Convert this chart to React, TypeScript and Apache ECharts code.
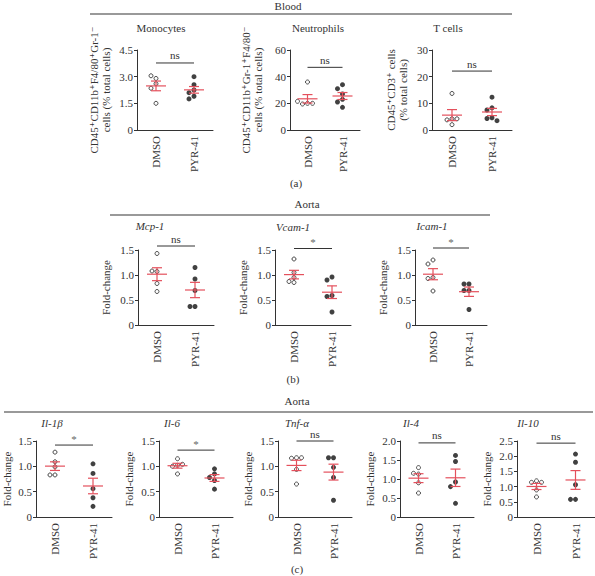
import React, { useEffect, useRef } from "react";
import * as echarts from "echarts";

// ---------- data ----------
const groups = ["DMSO", "PYR-41"];

// (a) Blood
const monoDMSO = [2.9, 3.05, 2.6, 2.35, 1.5];
const monoPYR = [3.0, 2.55, 2.25, 2.1, 1.9, 1.75];
const neutDMSO = [36, 20, 19.5, 20, 21.5];
const neutPYR = [34, 31, 27, 23, 21, 17];
const tcellDMSO = [13.7, 4.2, 3.8, 4.2, 2.0];
const tcellPYR = [12.3, 8.3, 7.5, 4.6, 4.3, 3.5];

// (b) Aorta
const mcpDMSO = [1.43, 1.07, 1.08, 0.83, 0.67];
const mcpPYR = [1.15, 0.92, 0.69, 0.37, 0.37];
const vcamDMSO = [1.32, 1.05, 0.95, 0.87, 0.85];
const vcamPYR = [0.96, 0.9, 0.59, 0.57, 0.26];
const icamDMSO = [1.3, 1.22, 0.95, 0.93, 0.68];
const icamPYR = [0.82, 0.82, 0.69, 0.69, 0.31];

// (c) Aorta
const il1bDMSO = [1.28, 1.09, 0.99, 0.83, 0.83];
const il1bPYR = [1.05, 0.86, 0.56, 0.38, 0.21];
const il6DMSO = [1.15, 1.02, 1.0, 1.04, 0.85];
const il6PYR = [0.95, 0.85, 0.78, 0.72, 0.55];
const tnfDMSO = [1.17, 1.16, 1.17, 0.94, 0.65];
const tnfPYR = [1.17, 1.17, 0.98, 0.78, 0.33];
const il4DMSO = [1.3, 1.13, 1.15, 0.9, 0.63];
const il4PYR = [1.62, 1.46, 0.92, 0.8, 0.36];
const il10DMSO = [1.19, 1.14, 1.14, 0.89, 0.66];
const il10PYR = [2.07, 1.8, 1.06, 0.58, 0.58];

const panelTitles = ["Monocytes", "Neutrophils", "T cells", "Mcp-1", "Vcam-1", "Icam-1", "Il-1β", "Il-6", "Tnf-α", "Il-4", "Il-10"];
const yNames = [
  "CD45⁺CD11b⁺F4/80⁺Gr-1⁻\ncells (% total cells)",
  "CD45⁺CD11b⁺Gr-1⁺F4/80⁻\ncells (% total cells)",
  "CD45⁺CD3⁺ cells\n(% total cells)",
  "Fold-change", "Fold-change", "Fold-change",
  "Fold-change", "Fold-change", "Fold-change", "Fold-change", "Fold-change",
];
const yMax = [4.5, 60, 30, 1.5, 1.5, 1.5, 1.5, 1.5, 1.5, 2.0, 2.5];
const yInterval = [1.5, 20, 10, 0.5, 0.5, 0.5, 0.5, 0.5, 0.5, 0.5, 0.5];
const sigText = ["ns", "ns", "ns", "ns", "*", "*", "*", "*", "ns", "ns", "ns"];
const sigLevel = [3.77, 47, 22.1, 1.58, 1.53, 1.54, 1.42, 1.32, 1.5, 1.95, 2.43];
const dmsoSets = [monoDMSO, neutDMSO, tcellDMSO, mcpDMSO, vcamDMSO, icamDMSO, il1bDMSO, il6DMSO, tnfDMSO, il4DMSO, il10DMSO];
const pyrSets = [monoPYR, neutPYR, tcellPYR, mcpPYR, vcamPYR, icamPYR, il1bPYR, il6PYR, tnfPYR, il4PYR, il10PYR];

// ---------- layout ----------
const layout = [
  { left: 137, width: 76, top: 50, height: 80, tx: 161, ty: 28, gap: 25, italic: false },
  { left: 290, width: 70, top: 50, height: 80, tx: 318, ty: 28, gap: 26, italic: false },
  { left: 432, width: 80, top: 50, height: 80, tx: 448, ty: 28, gap: 23, italic: false },
  { left: 138, width: 76, top: 250, height: 75, tx: 150, ty: 226, gap: 26, italic: true },
  { left: 275, width: 76, top: 250, height: 75, tx: 293, ty: 227, gap: 26, italic: true },
  { left: 415, width: 72, top: 250, height: 75, tx: 432, ty: 226, gap: 26, italic: true },
  { left: 36, width: 76, top: 441, height: 76, tx: 52, ty: 423, gap: 23, italic: true },
  { left: 159, width: 74, top: 441, height: 76, tx: 172, ty: 423, gap: 24, italic: true },
  { left: 278, width: 74, top: 441, height: 76, tx: 297, ty: 423, gap: 24, italic: true },
  { left: 400, width: 74, top: 441, height: 76, tx: 411, ty: 423, gap: 24, italic: true },
  { left: 517, width: 78, top: 441, height: 76, tx: 528, ty: 423, gap: 24, italic: true },
];

const FONT = "'Liberation Serif', 'DejaVu Serif', serif";
const RED = "#e4505c";
const INK = "#333";

function mean(a: number[]) {
  return a.reduce((s, v) => s + v, 0) / a.length;
}
function sem(a: number[]) {
  const m = mean(a);
  const sd = Math.sqrt(a.reduce((s, v) => s + (v - m) * (v - m), 0) / (a.length - 1));
  return sd / Math.sqrt(a.length);
}
// simple beeswarm offsets (px) so that overlapping points spread sideways
function swarm(vals: number[], max: number, hPx: number, size = 5) {
  const placed: { x: number; y: number }[] = [];
  return vals.map((v) => {
    const y = (v / max) * hPx;
    const cands = [0, -size, size, -2 * size, 2 * size];
    for (const dx of cands) {
      if (placed.every((p) => Math.hypot(p.x - dx, p.y - y) >= size * 0.95)) {
        placed.push({ x: dx, y });
        return dx;
      }
    }
    placed.push({ x: 0, y });
    return 0;
  });
}

function buildOption() {
  const grid: any[] = [];
  const xAxis: any[] = [];
  const yAxis: any[] = [];
  const series: any[] = [];
  const graphic: any[] = [];

  layout.forEach((L, i) => {
    grid.push({ left: L.left, top: L.top, width: L.width, height: L.height, containLabel: false, outerBoundsMode: "none" });
    xAxis.push({
      type: "category",
      gridIndex: i,
      data: groups,
      boundaryGap: true,
      axisLine: { lineStyle: { color: INK, width: 1 } },
      axisTick: { show: false },
      axisLabel: { rotate: 90, fontFamily: FONT, fontSize: 11, color: INK, margin: 6, interval: 0 },
    });
    yAxis.push({
      type: "value",
      gridIndex: i,
      min: 0,
      max: yMax[i],
      interval: yInterval[i],
      splitLine: { show: false },
      axisLine: { show: true, lineStyle: { color: INK, width: 1 } },
      axisTick: { show: true, length: 3, lineStyle: { color: INK } },
      axisLabel: {
        fontFamily: FONT,
        fontSize: 11,
        color: INK,
        margin: 4,
        formatter: (v: number) => (v === 0 ? "0" : yInterval[i] >= 10 ? String(v) : v.toFixed(1)),
      },
      name: yNames[i],
      nameLocation: "middle",
      nameRotate: 90,
      nameGap: L.gap,
      nameTextStyle: { fontFamily: FONT, fontSize: 11, color: INK, lineHeight: 12 },
    });

    const d = dmsoSets[i];
    const p = pyrSets[i];
    const offD = swarm(d, yMax[i], L.height);
    const offP = swarm(p, yMax[i], L.height);
    series.push({
      type: "scatter",
      xAxisIndex: i,
      yAxisIndex: i,
      symbol: "circle",
      symbolSize: 4,
      itemStyle: { color: "#fff", borderColor: "#222", borderWidth: 1 },
      data: d.map((v, k) => ({ value: [0, v], symbolOffset: [offD[k], 0] })),
      z: 2,
    });
    series.push({
      type: "scatter",
      xAxisIndex: i,
      yAxisIndex: i,
      symbol: "circle",
      symbolSize: 5,
      itemStyle: { color: "#111" },
      data: p.map((v, k) => ({ value: [1, v], symbolOffset: [offP[k], 0] })),
      z: 2,
    });
    series.push({
      type: "custom",
      xAxisIndex: i,
      yAxisIndex: i,
      z: 3,
      encode: { x: 0, y: 1 },
      data: [
        [0, mean(d), sem(d)],
        [1, mean(p), sem(p)],
      ],
      renderItem: (_params: any, api: any) => {
        const x = api.value(0);
        const m = api.value(1);
        const s = api.value(2);
        const c = api.coord([x, m]);
        const t = api.coord([x, m + s]);
        const b = api.coord([x, m - s]);
        const st = { stroke: RED, lineWidth: 1.2 };
        return {
          type: "group",
          children: [
            { type: "line", shape: { x1: c[0] - 10, y1: c[1], x2: c[0] + 10, y2: c[1] }, style: st },
            { type: "line", shape: { x1: c[0], y1: t[1], x2: c[0], y2: b[1] }, style: st },
            { type: "line", shape: { x1: c[0] - 5, y1: t[1], x2: c[0] + 5, y2: t[1] }, style: st },
            { type: "line", shape: { x1: c[0] - 5, y1: b[1], x2: c[0] + 5, y2: b[1] }, style: st },
          ],
        };
      },
    });
    series.push({
      type: "custom",
      xAxisIndex: i,
      yAxisIndex: i,
      z: 3,
      encode: { x: 0, y: 1 },
      data: [[0, sigLevel[i]]],
      renderItem: (_params: any, api: any) => {
        const lvl = api.value(1);
        const a = api.coord([0, lvl]);
        const b = api.coord([1, lvl]);
        const txt = sigText[i];
        return {
          type: "group",
          children: [
            { type: "line", shape: { x1: a[0], y1: a[1], x2: b[0], y2: b[1] }, style: { stroke: INK, lineWidth: 1 } },
            {
              type: "text",
              style: {
                text: txt,
                x: (a[0] + b[0]) / 2,
                y: a[1] - (txt === "*" ? 1 : 2),
                align: "center",
                verticalAlign: "bottom",
                textAlign: "center",
                textVerticalAlign: "bottom",
                fill: txt === "*" ? "#666" : INK,
                font: `11px ${FONT}`,
              },
            },
          ],
        };
      },
    });

    graphic.push({
      type: "text",
      x: L.tx,
      y: L.ty,
      style: {
        text: panelTitles[i],
        fill: INK,
        font: `${L.italic ? "italic " : ""}11px ${FONT}`,
        textAlign: "center",
        textVerticalAlign: "middle",
        align: "center",
        verticalAlign: "middle",
      },
    });
  });

  const headerText = (text: string, x: number, y: number) => ({
    type: "text",
    x,
    y,
    style: { text, fill: INK, font: `11px ${FONT}`, textAlign: "center", textVerticalAlign: "middle", align: "center", verticalAlign: "middle" },
  });
  const rule = (x1: number, x2: number, y: number) => ({
    type: "line",
    shape: { x1, y1: y, x2, y2: y },
    style: { stroke: "#777", lineWidth: 1.3 },
  });
  graphic.push(headerText("Blood", 288, 6));
  graphic.push(rule(90, 512, 14));
  graphic.push(headerText("(a)", 296, 183));
  graphic.push(headerText("Aorta", 307, 204));
  graphic.push(rule(110, 490, 215));
  graphic.push(headerText("(b)", 293, 379));
  graphic.push(headerText("Aorta", 297, 401));
  graphic.push(rule(4, 593, 412));
  graphic.push(headerText("(c)", 297, 569));

  return {
    animation: false,
    backgroundColor: "#fff",
    grid,
    xAxis,
    yAxis,
    series,
    graphic,
  };
}

export default function App() {
  const ref = useRef<HTMLDivElement>(null);
  useEffect(() => {
    if (!ref.current) return;
    const chart = echarts.init(ref.current, undefined, { renderer: "svg" });
    chart.setOption(buildOption() as any);
    return () => chart.dispose();
  }, []);
  return <div ref={ref} style={{ position: "fixed", left: 0, top: 0, width: 595, height: 576 }} />;
}
